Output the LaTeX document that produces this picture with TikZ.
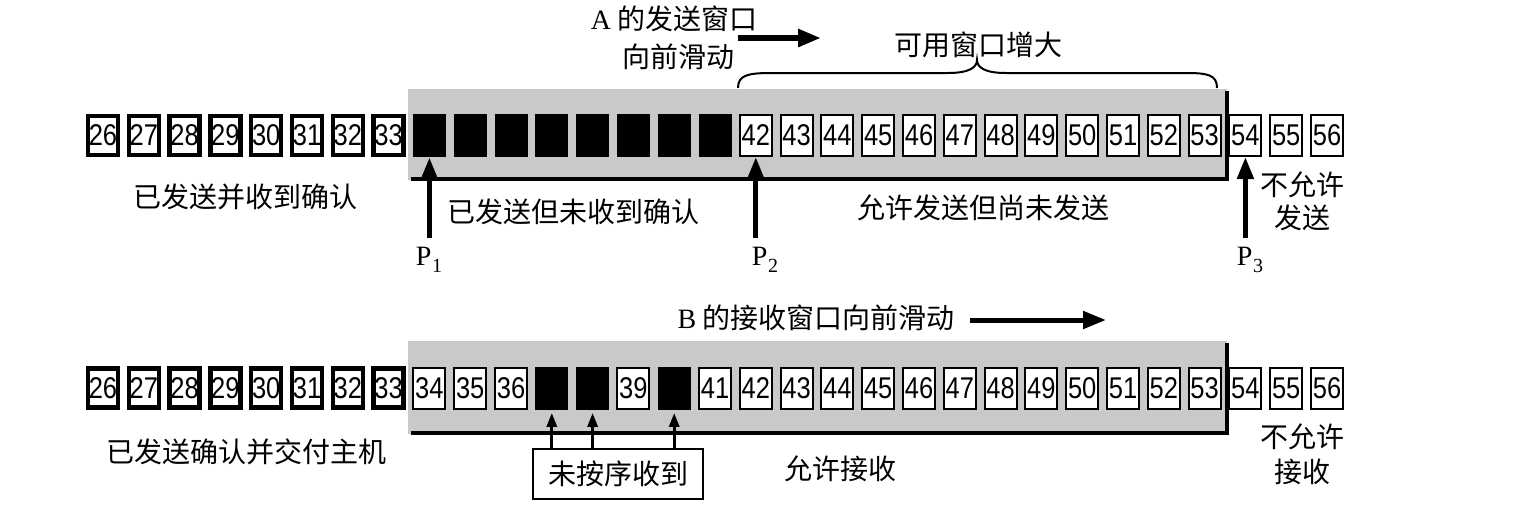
\documentclass[tikz,border=0pt]{standalone}
\usepackage{fontspec}
\setmainfont{Liberation Serif}
\newfontfamily\cjk{Noto Sans CJK SC}
\newfontfamily\numfont[FakeStretch=0.85]{Liberation Sans}
\usetikzlibrary{arrows.meta}
\begin{document}
\begin{tikzpicture}[x=0.5pt,y=-0.5pt,
  cell/.style={minimum width=16pt, minimum height=20.5pt, inner sep=0pt,
    font=\numfont\fontsize{15}{15}\selectfont},
  oldcell/.style={cell, draw, line width=2.2pt, minimum width=15pt, minimum height=19.5pt, fill=white},
  wincell/.style={cell, draw, line width=1pt, fill=white},
  blackcell/.style={cell, fill=black, minimum width=16.5pt, minimum height=21.5pt},
  lbl/.style={font=\cjk\fontsize{14}{17}\selectfont, inner sep=0pt, align=center},
  plbl/.style={font=\rmfamily\fontsize{14}{14}\selectfont, inner sep=0pt, anchor=north},
  band/.style={fill=black!21},
  bandedge/.style={line width=2pt},
  parrow/.style={-{Triangle[width=8pt,length=11pt]}, line width=2.5pt},
  sarrow/.style={-{Triangle[width=5pt,length=7pt]}, line width=1.5pt},
  warrow/.style={-{Triangle[width=8.5pt,length=11.5pt]}, line width=2.8pt},
  brace/.style={line width=1pt},
  notebox/.style={draw, line width=1pt, minimum width=85pt, minimum height=25pt, inner sep=0pt,
    font=\cjk\fontsize{14}{17}\selectfont}
]
\useasboundingbox (0,0) rectangle (1534,520);

% ---------- sender (top) ----------
\fill[band] (408,89) rectangle (1227,180);
\draw[bandedge] (411,179) -- (1227,179) -- (1227,91);

\foreach \n [evaluate=\n as \x using 103+40.8*(\n-26)] in {26,...,33}
  \node[oldcell] (s\n) at (\x,135.5) {\n};
\foreach \n [evaluate=\n as \x using 103+40.8*(\n-26)] in {34,...,41}
  \node[blackcell] (s\n) at (\x,135.5) {};
\foreach \n [evaluate=\n as \x using 103+40.8*(\n-26)] in {42,...,56}
  \node[wincell] (s\n) at (\x,135.5) {\n};

\node[plbl] (P1) at (429,247) {P\kern0.3pt\raisebox{-3.5pt}{\fontsize{10}{10}\selectfont 1}};
\node[plbl] (P2) at (765,247) {P\kern0.3pt\raisebox{-3.5pt}{\fontsize{10}{10}\selectfont 2}};
\node[plbl] (P3) at (1250,247) {P\kern0.3pt\raisebox{-3.5pt}{\fontsize{10}{10}\selectfont 3}};
\draw[parrow, shorten <=4.5pt] (P1.north -| s34.south) -- (s34.south);
\draw[parrow, shorten <=4.5pt] (P2.north -| s42.south) -- (s42.south);
\draw[parrow, shorten <=4.5pt] (P3.north -| s54.south) -- (s54.south);

\node[lbl] (acked) at (245,197) {已发送并收到确认};
\node[lbl] (sent) at (573,212) {已发送但未收到确认};
\node[lbl] (usable) at (983,208) {允许发送但尚未发送};
\node[lbl, font=\cjk\fontsize{14}{16.5}\selectfont] (nosend) at (1302,201) {不允许\\发送};

\node[lbl, font=\cjk\fontsize{14}{19}\selectfont] (aslide) at (674,38) {{\rmfamily A} 的发送窗口\\\hspace*{4pt}向前滑动};
\coordinate (aa1) at (738,38);
\coordinate (aa2) at (821,38);
\draw[warrow] (aa1) -- (aa2);

\node[lbl] (grow) at (978,45) {可用窗口增大};
\draw[brace] (738,88) .. controls (738,75) and (748,73) .. (772,73)
  -- (948,73) .. controls (970,73) and (977,67) .. (977,60)
  .. controls (977,67) and (984,73) .. (1006,73)
  -- (1186,73) .. controls (1208,73) and (1217,75) .. (1217,88);

% ---------- receiver (bottom) ----------
\fill[band] (408,341) rectangle (1227,434);
\draw[bandedge] (411,433) -- (1227,433) -- (1227,343);

\foreach \n [evaluate=\n as \x using 103+40.8*(\n-26)] in {26,...,33}
  \node[oldcell] (r\n) at (\x,388) {\n};
\foreach \n [evaluate=\n as \x using 103+40.8*(\n-26)] in {34,35,36,39,41,42,43,44,45,46,47,48,49,50,51,52,53,54,55,56}
  \node[wincell] (r\n) at (\x,388) {\n};
\foreach \n [evaluate=\n as \x using 103+40.8*(\n-26)] in {37,38,40}
  \node[blackcell] (r\n) at (\x,388) {};

\node[lbl] (bslide) at (816,318) {{\rmfamily B} 的接收窗口向前滑动};
\coordinate (ba1) at (970,320);
\coordinate (ba2) at (1106,320);
\draw[warrow, line width=2.5pt] (ba1) -- (ba2);

\node[notebox] (ooo) at (618,474) {未按序收到};
\draw[sarrow, shorten >=1.5pt] (ooo.north -| r37.south) -- (r37.south);
\draw[sarrow, shorten >=1.5pt] (ooo.north -| r38.south) -- (r38.south);
\draw[sarrow, shorten >=1.5pt] (ooo.north -| r40.south) -- (r40.south);

\node[lbl] (delivered) at (246,452) {已发送确认并交付主机};
\node[lbl] (recv) at (840,469) {允许接收};
\node[lbl, font=\cjk\fontsize{14}{17.5}\selectfont] (norecv) at (1302,454) {不允许\\接收};
\end{tikzpicture}
\end{document}
